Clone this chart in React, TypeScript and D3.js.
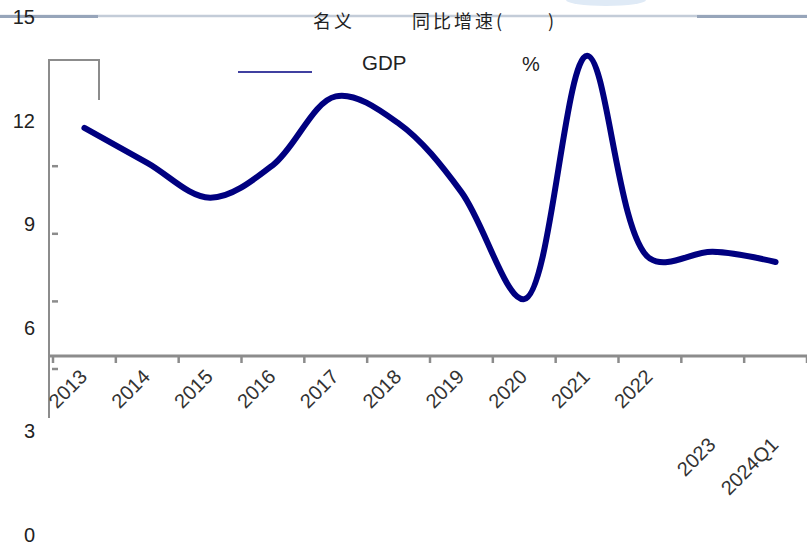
import React, { useEffect, useRef } from 'react';
import * as d3 from 'd3';

// categories and values (nominal GDP yoy, %)
const years = ['2013', '2014', '2015', '2016', '2017', '2018', '2019', '2020', '2021', '2022', '2023', '2024Q1'];
const growth = [10.7, 9.15, 7.6, 9.05, 12.1, 10.9, 7.85, 3.1, 13.9, 4.9, 5.2, 4.75];
const yLabels = [0, 3, 6, 9, 12, 15];
const minorTicks = [0, 3, 6, 9];

const GdpChart: React.FC = () => {
  const svgRef = useRef<SVGSVGElement>(null);

  useEffect(() => {
    if (!svgRef.current) return;
    const svg = d3.select(svgRef.current);
    svg.selectAll('*').remove();

    const width = 807;
    const height = 546;
    const lineColor = '#000080';
    const axisColor = '#8c8c8c';
    const textColor = '#222';
    const sans = '"Liberation Sans", Arial, sans-serif';
    const cjk = '"Noto Sans CJK SC", sans-serif';

    svg.attr('width', width).attr('height', height);

    // scales
    const x = d3.scaleBand<string>().domain(years).range([53, 807]);
    const y = d3.scaleLinear().domain([0, 15]).range([369, 31]);
    const yText = d3.scaleLinear().domain([0, 15]).range([535, 17]);

    // faint glow at top
    svg.append('ellipse')
      .attr('cx', 606).attr('cy', 0).attr('rx', 40).attr('ry', 6)
      .attr('fill', '#dfeaf6');

    // header rule
    svg.append('line')
      .attr('x1', 0).attr('x2', width).attr('y1', 16).attr('y2', 16)
      .attr('stroke', '#c3ccd8').attr('stroke-width', 2.5);
    [[0, 98], [697, 807]].forEach(([a, b]) => {
      svg.append('line')
        .attr('x1', a).attr('x2', b).attr('y1', 16.5).attr('y2', 16.5)
        .attr('stroke', '#97a5ba').attr('stroke-width', 3);
    });

    // title
    const title = svg.append('g')
      .attr('font-family', cjk).attr('font-size', 18).attr('fill', textColor)
      .attr('letter-spacing', 3);
    title.append('text').attr('x', 313).attr('y', 28).text('名义');
    title.append('text').attr('x', 412).attr('y', 28).text('同比增速(');
    title.append('text').attr('x', 548).attr('y', 28).text(')');

    // legend
    svg.append('line')
      .attr('x1', 238).attr('x2', 312).attr('y1', 72).attr('y2', 72)
      .attr('stroke', lineColor).attr('stroke-width', 1.5);
    svg.append('text')
      .attr('x', 362).attr('y', 70)
      .attr('font-family', sans).attr('font-size', 20.5).attr('fill', textColor)
      .text('GDP');
    svg.append('text')
      .attr('x', 522).attr('y', 71)
      .attr('font-family', sans).attr('font-size', 20).attr('fill', textColor)
      .text('%');

    // y labels
    svg.append('g').selectAll('text')
      .data(yLabels)
      .join('text')
      .attr('x', 35)
      .attr('y', d => yText(d) + 7)
      .attr('text-anchor', 'end')
      .attr('font-family', sans)
      .attr('font-size', 20)
      .attr('fill', textColor)
      .text(d => String(d));

    // corner bracket + vertical axis
    svg.append('path')
      .attr('d', 'M49,418V60H99V100')
      .attr('fill', 'none')
      .attr('stroke', axisColor)
      .attr('stroke-width', 2);

    svg.append('g').selectAll('line')
      .data(minorTicks)
      .join('line')
      .attr('x1', 52).attr('x2', 58)
      .attr('y1', d => y(d)).attr('y2', d => y(d))
      .attr('stroke', axisColor).attr('stroke-width', 2.5);

    // x axis
    svg.append('line')
      .attr('x1', 49).attr('x2', width).attr('y1', 356).attr('y2', 356)
      .attr('stroke', axisColor).attr('stroke-width', 3);

    const edges = years.map(d => x(d) as number).concat([807]);
    svg.append('g').selectAll('line')
      .data(edges)
      .join('line')
      .attr('x1', d => d).attr('x2', d => d)
      .attr('y1', 356).attr('y2', 363)
      .attr('stroke', axisColor).attr('stroke-width', 2.5);

    svg.append('g').selectAll('text')
      .data(years)
      .join('text')
      .attr('transform', (d, i) => {
        const cx = (x(d) as number) + x.bandwidth() / 2 + 4;
        const cy = i >= 10 ? 446 : 378;
        return `translate(${cx},${cy}) rotate(-45)`;
      })
      .attr('text-anchor', 'end')
      .attr('font-family', sans)
      .attr('font-size', 20)
      .attr('fill', '#333')
      .text(d => d);

    // line
    const line = d3.line<number>()
      .x((_, i) => (x(years[i]) as number) + x.bandwidth() / 2)
      .y(d => y(d))
      .curve(d3.curveCatmullRom.alpha(0.5));

    svg.append('path')
      .datum(growth)
      .attr('d', line)
      .attr('fill', 'none')
      .attr('stroke', lineColor)
      .attr('stroke-width', 6)
      .attr('stroke-linejoin', 'round')
      .attr('stroke-linecap', 'round');
  }, []);

  return <svg ref={svgRef} style={{ position: 'absolute', left: 0, top: 0 }}></svg>;
};

export default function App() {
  return <GdpChart />;
}
